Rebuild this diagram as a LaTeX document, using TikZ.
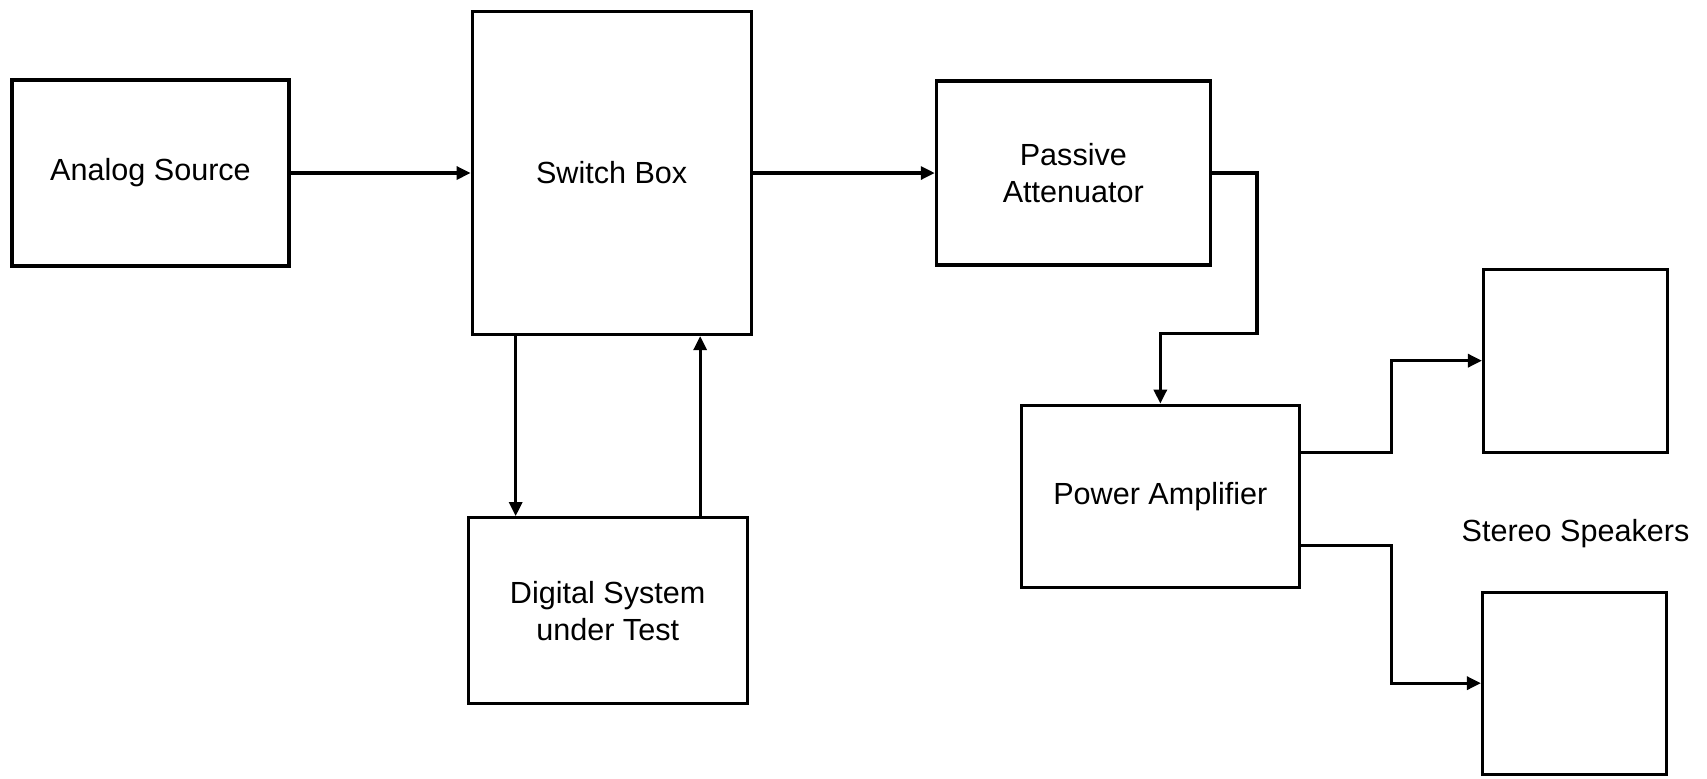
\documentclass[tikz,border=0pt]{standalone}
\usepackage{fontspec}
\setmainfont{Liberation Sans}
\usetikzlibrary{arrows.meta, positioning, calc}

\begin{document}
\begin{tikzpicture}[
  block/.style = {draw, line width=0.9pt, minimum height=1.86cm, minimum width=2.78cm, align=center, inner sep=0pt},
  spkblock/.style = {draw, line width=0.9pt, minimum height=1.83cm, minimum width=1.84cm, inner sep=0pt},
  arrow/.style = {line width=0.9pt, -{Triangle[length=1.4mm, width=1.3mm]}},
  font=\fontsize{8.7}{10.5}\selectfont,
  node distance=1.85cm and 1.85cm
]
  \useasboundingbox (0,0) rectangle (17.07,-7.78);

  % ======================================================
  % Analog Source and Switch Box
  % ======================================================
  \node[block, minimum width=2.77cm] (analog) at (1.505,-1.73) {Analog Source};

  \node[block, right=1.80cm of analog, minimum width=2.79cm, minimum height=3.23cm] (switch) {Switch Box};

  % Passive Attenuator (to the right)
  \node[block, right=1.82cm of switch, minimum width=2.74cm, minimum height=1.84cm] (passive) {Passive\\Attenuator};

  % Digital System under Test (below the switch box)
  \node[block, below=1.80cm of switch, xshift=-0.04cm, minimum width=2.79cm] (dsut) {Digital System\\under Test};

  % Power Amplifier
  \node[block, below=1.37cm of passive, xshift=0.87cm, minimum height=1.82cm] (amp) {Power Amplifier};

  % Speakers
  \node[spkblock, right=1.81cm of amp, yshift=1.355cm] (spkL) {};
  \node[spkblock, right=1.80cm of amp, yshift=-1.87cm, minimum height=1.82cm] (spkR) {};
  \node[below=0.88cm of spkL.south, anchor=base] (stereo) {Stereo Speakers};

  % source -> switch -> attenuator
  \draw[arrow] (analog.east) -- (switch.west);
  \draw[arrow] (switch.east) -- (passive.west);

  % attenuator -> amplifier (routed round)
  \coordinate (attout) at ($(passive.east)+(0.45,0)$);
  \coordinate (attdrop) at ($(amp.north)+(0,0.70)$);
  \draw[arrow] (passive.east) -- (attout) |- (attdrop) -- (amp.north);

  % switch box <-> digital system
  \coordinate (swdown) at ([xshift=-0.96cm]switch.south);
  \coordinate (swup) at ([xshift=0.885cm]switch.south);
  \draw[arrow] (swdown) -- (swdown |- dsut.north);
  \draw[arrow] (swup |- dsut.north) -- (swup);

  % amplifier -> speakers
  \coordinate (ampL) at ([yshift=0.44cm]amp.east);
  \coordinate (ampR) at ([yshift=-0.49cm]amp.east);
  \coordinate (split) at ($(amp.east)!0.5!(spkL.west |- amp.east)$);
  \draw[arrow] (ampL) -- (ampL -| split) |- (spkL.west);
  \draw[arrow] (ampR) -- (ampR -| split) |- (spkR.west);

\end{tikzpicture}
\end{document}
